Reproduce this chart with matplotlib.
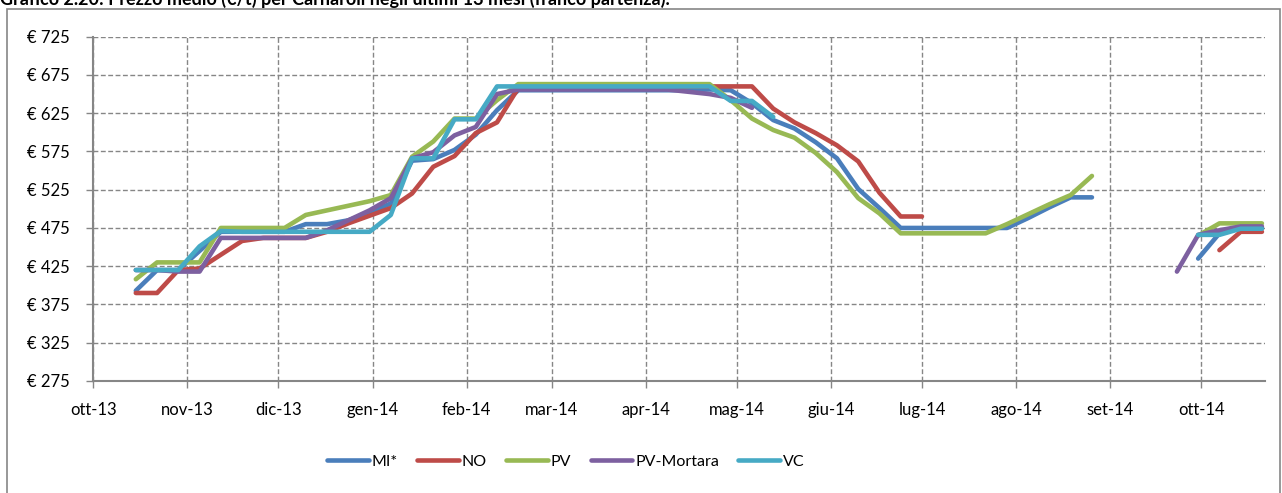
import numpy as np
import pandas as pd
import matplotlib
matplotlib.use("Agg")
import matplotlib.pyplot as plt
import matplotlib.dates as mdates
from matplotlib.patches import Rectangle

plt.rcParams['font.family'] = ['Lato', 'DejaVu Sans']

# weekly quotations, Tuesday 15 Oct 2013 -> Tuesday 21 Oct 2014
weeks = pd.date_range("2013-10-15", periods=54, freq="7D")
nan = np.nan

mi = [393, 420, 420, 445, 470, 470, 470, 470, 480, 480, 485, 495, 507, 563, 565,
      577, 597, 629, 655, 655, 655, 655, 655, 655, 655, 655, 655, 656, 655, 638,
      616, 605, 587, 566, 526, 501, 475, 475, 475, 475, 475, 475, 488, 502, 515,
      515, nan, nan, nan, nan, 435, 468, 475, 475]
no = [390, 390, 420, 422, 440, 458, 462, 462, 462, 470, 481, 491, 501, 520, 555,
      569, 599, 613, 658, 660, 660, 660, 660, 660, 660, 660, 660, 660, 660, 660,
      631, 613, 599, 583, 562, 521, 490, 490, nan, nan, nan, nan, nan, nan, nan,
      nan, nan, nan, nan, nan, nan, 446, 470, 470]
pv = [408, 430, 430, 430, 475, 475, 475, 475, 492, 498, 504, 510, 518, 568, 588,
      618, 618, 642, 663, 663, 663, 663, 663, 663, 663, 663, 663, 663, 642, 618,
      603, 593, 573, 548, 514, 494, 468, 468, 468, 468, 468, 480, 493, 506, 518,
      543, nan, nan, nan, nan, 465, 481, 481, 481]
pv_mortara = [420, 420, 418, 418, 462, 462, 462, 462, 462, 472, 485, 498, 514, 566,
              574, 596, 607, 650, 656, 656, 656, 656, 656, 656, 656, 656, 653, 650,
              645, 632, nan, nan, nan, nan, nan, nan, nan, nan, nan, nan, nan, nan,
              nan, nan, nan, nan, nan, nan, nan, 418, 466, 472, 477, 477]
vc = [420, 420, 420, 451, 471, 470, 470, 470, 470, 470, 470, 470, 492, 566, 566,
      617, 617, 660, 660, 660, 660, 660, 660, 660, 660, 660, 660, 660, 641, 641,
      620, nan, nan, nan, nan, nan, nan, nan, nan, nan, nan, nan, nan, nan, nan,
      nan, nan, nan, nan, nan, 466, 466, 474, 474]

series = [("MI*", mi, "#4A7EBB"), ("NO", no, "#BE4B48"), ("PV", pv, "#98B954"),
          ("PV-Mortara", pv_mortara, "#7D60A0"), ("VC", vc, "#46AAC5")]
mesi = ["gen", "feb", "mar", "apr", "mag", "giu", "lug", "ago", "set", "ott", "nov", "dic"]

fig = plt.figure(figsize=(12.82, 4.93), dpi=100)
ax = fig.add_axes([0.0728, 0.2272, 0.9139, 0.6984])

for name, vals, col in series:
    ax.plot(weeks, vals, color=col, lw=3.3, label=name,
            solid_capstyle="round", solid_joinstyle="round")

grey = "#868686"
ax.set_ylim(275, 725)
ax.set_yticks(np.arange(275, 726, 50))
ax.set_yticklabels([f"€ {v}" for v in range(275, 726, 50)])
ax.set_xlim(pd.Timestamp("2013-10-01"), pd.Timestamp("2014-10-22"))
ax.xaxis.set_major_locator(mdates.MonthLocator())
ax.xaxis.set_major_formatter(
    plt.FuncFormatter(lambda x, p: "%s-%s" % (mesi[mdates.num2date(x).month - 1],
                                                mdates.num2date(x).strftime("%y"))))
ax.grid(True, color=grey, lw=1.0, linestyle=(0, (3.5, 1.8)))
ax.set_axisbelow(True)
for s in ["top", "right"]:
    ax.spines[s].set_visible(False)
for s in ["left", "bottom"]:
    ax.spines[s].set_color(grey)
    ax.spines[s].set_linewidth(1.5)
ax.tick_params(length=5, width=1, color=grey, labelsize=12)
ax.tick_params(axis="y", pad=12)
ax.tick_params(axis="x", pad=10)

ax.legend(loc="center", bbox_to_anchor=(0.4415, 0.063), bbox_transform=fig.transFigure,
          ncol=5, frameon=False, fontsize=11.5, handlelength=2.6,
          handletextpad=0.2, columnspacing=1.2)

# chart frame and title (cut at the top edge, as in the source)
fig.patches.append(Rectangle((7 / 1282, -0.1), 1273 / 1282, 1.1 - 9 / 493,
                             transform=fig.transFigure, fill=False,
                             edgecolor=grey, lw=1.2))
fig.text(0.0, 1 - 4.5 / 493,
         "Grafico 2.20: Prezzo medio (€/t) per Carnaroli negli ultimi 13 mesi (franco partenza).",
         fontsize=13, fontweight="bold", va="baseline", ha="left")

fig.savefig("out.png", dpi=100)
